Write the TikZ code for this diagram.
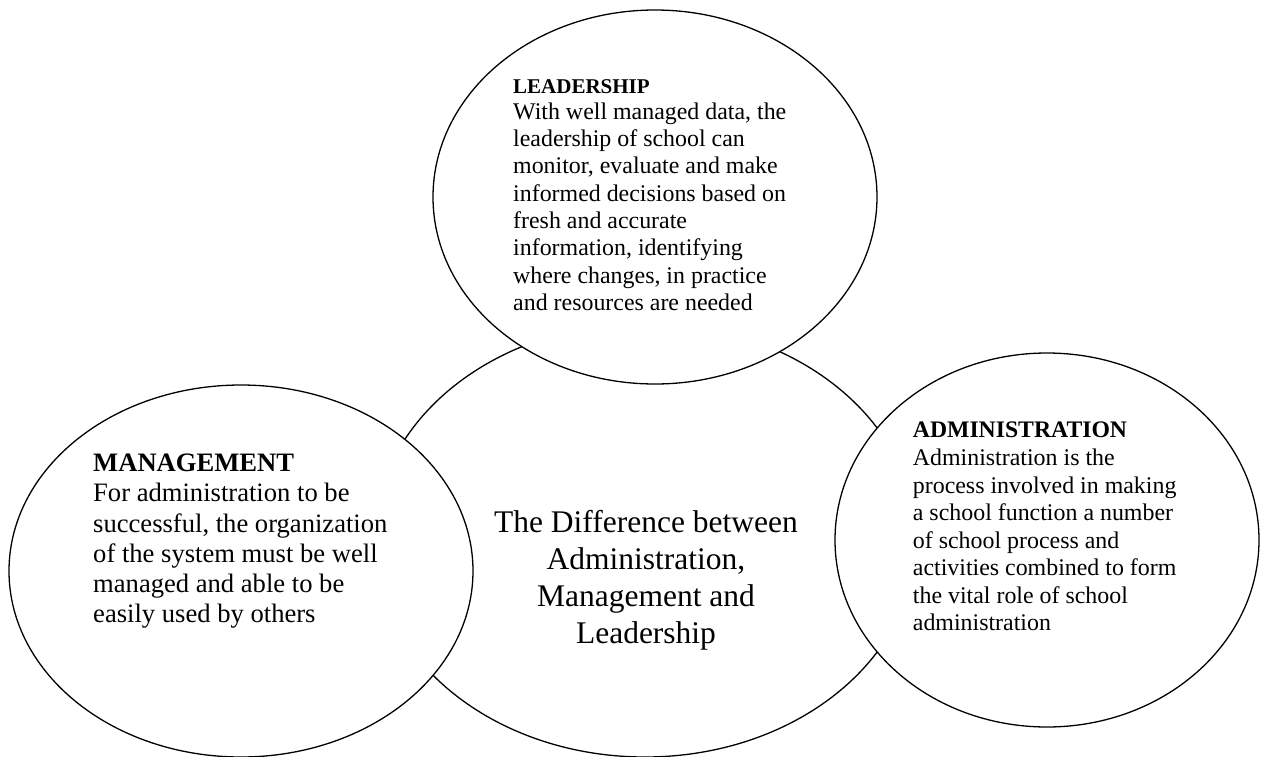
\documentclass[tikz,border=0pt]{standalone}
\usepackage{fontspec}
\setmainfont{Liberation Serif}
\usetikzlibrary{shapes.geometric}
\newcommand{\lefttext}[1]{\vtop{\halign{##\hfil\cr#1\crcr}}}
\newcommand{\centertext}[1]{\vtop{\halign{\hfil##\hfil\cr#1\crcr}}}
\tikzset{
  bubble/.style={ellipse, draw=black, fill=white, line width=1.3pt, inner sep=0pt},
  blocktext/.style={anchor=base west, inner sep=0pt, text=black},
}
\begin{document}
\begin{tikzpicture}[x=1pt,y=-1pt]
\useasboundingbox (0,0) rectangle (1262,756);
\fill[white] (0,0) rectangle (1262,756);
% central ellipse first, the others cover it
\node[bubble, minimum width=542pt, minimum height=434pt] (center) at (645,540) {};
\node[bubble, minimum width=464pt, minimum height=372pt] (mgmt) at (241,571) {};
\node[bubble, minimum width=444pt, minimum height=374pt] (lead) at (655,197) {};
\node[bubble, minimum width=424pt, minimum height=374pt] (admin) at (1047,540) {};
% texts
\node[blocktext, font=\fontsize{23.9}{27.3}\selectfont] (leadtxt) at (513,93.3)
  {\lefttext{{\fontsize{21}{21}\selectfont\bfseries LEADERSHIP}\cr\noalign{\vskip-1.3pt}
   With well managed data, the\cr
   leadership of school can\cr
   monitor, evaluate and make\cr
   informed decisions based on\cr
   fresh and accurate\cr
   information, identifying\cr
   where changes, in practice\cr
   and resources are needed}};
\node[blocktext, font=\fontsize{26.6}{30.25}\selectfont] (mgmttxt) at (93,471.7)
  {\lefttext{{\bfseries MANAGEMENT}\cr
   For administration to be\cr
   successful, the organization\cr
   of the system must be well\cr
   managed and able to be\cr
   easily used by others}};
\node[blocktext, font=\fontsize{23.9}{27.5}\selectfont] (admintxt) at (912.7,437.3)
  {\lefttext{{\fontsize{23.7}{23.7}\selectfont\bfseries ADMINISTRATION}\cr\noalign{\vskip0.9pt}
   Administration is the\cr
   process involved in making\cr
   a school function a number\cr
   of school process and\cr
   activities combined to form\cr
   the vital role of school\cr
   administration}};
\node[anchor=base, inner sep=0pt, font=\fontsize{31.5}{36.8}\selectfont] (title) at (646,532.7)
  {\centertext{The Difference between\cr
   Administration,\cr
   Management and\cr
   Leadership}};
\end{tikzpicture}
\end{document}
